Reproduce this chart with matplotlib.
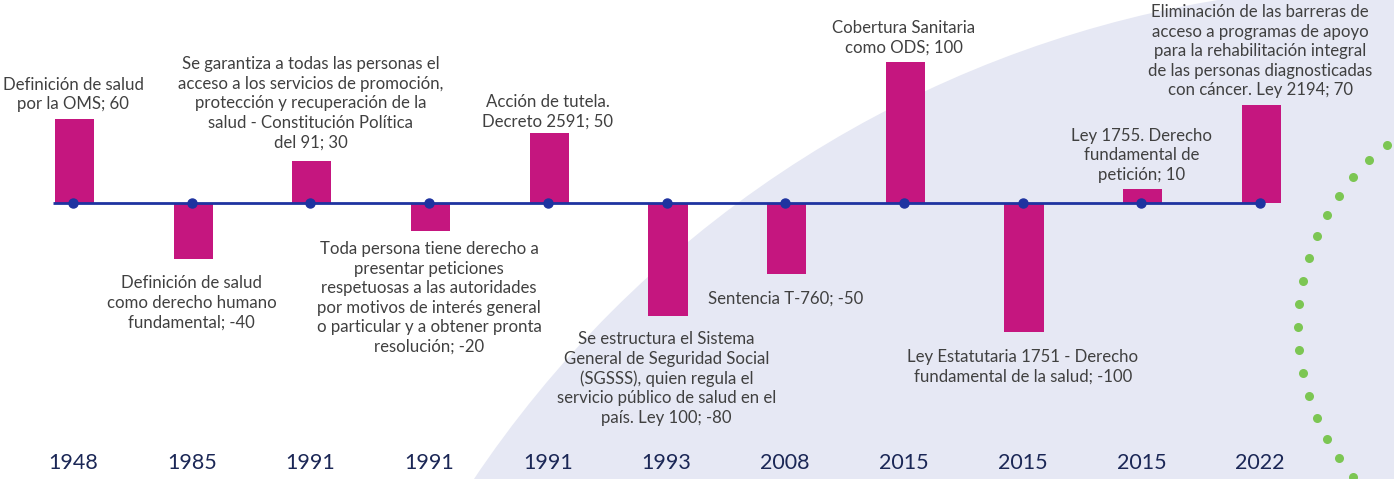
import numpy as np
import matplotlib
matplotlib.use("Agg")
import matplotlib.pyplot as plt
from matplotlib.patches import Circle

plt.rcParams['font.family'] = ['Lato', 'DejaVu Sans']

years = ["1948", "1985", "1991", "1991", "1991", "1993", "2008", "2015", "2015", "2015", "2022"]
values = [60, -40, 30, -20, 50, -80, -50, 100, -100, 10, 70]
descriptions = [
    "Definición de salud\npor la OMS",
    "Definición de salud\ncomo derecho humano\nfundamental",
    "Se garantiza a todas las personas el\nacceso a los servicios de promoción,\nprotección y recuperación de la\nsalud - Constitución Política\ndel 91",
    "Toda persona tiene derecho a\npresentar peticiones\nrespetuosas a las autoridades\npor motivos de interés general\no particular y a obtener pronta\nresolución",
    "Acción de tutela.\nDecreto 2591",
    "Se estructura el Sistema\nGeneral de Seguridad Social\n(SGSSS), quien regula el\nservicio público de salud en el\npaís. Ley 100",
    "Sentencia T-760",
    "Cobertura Sanitaria\ncomo ODS",
    "Ley Estatutaria 1751 - Derecho\nfundamental de la salud",
    "Ley 1755. Derecho\nfundamental de\npetición",
    "Eliminación de las barreras de\nacceso a programas de apoyo\npara la rehabilitación integral\nde las personas diagnosticadas\ncon cáncer. Ley 2194",
]

# label offsets (points) from bar end, styling only
label_offsets = [4.5, -11.5, 7.5, -7.0, 2.0, -11.0, -12.0, 4.5, -12.5, 4.5, 4.5]

BAR = "#C5167F"
NAVY = "#1E33A0"
YEAR_C = "#1B2756"
TEXT_C = "#404040"
LAV = "#E6E8F4"
GREEN = "#7CC653"

W, H = 1394, 479
fig = plt.figure(figsize=(W / 100, H / 100), dpi=100)
fig.patch.set_facecolor("white")

# decorative background
bg = fig.add_axes([0, 0, 1, 1], zorder=0)
bg.set_xlim(0, W)
bg.set_ylim(H, 0)
bg.axis("off")
bg.add_patch(Circle((1400, 1100), 1115, facecolor=LAV, edgecolor="none"))
cx, cy, R = 1528, 327, 230
ang = np.deg2rad(180 + 5.8 * np.arange(-10, 11))
bg.plot(cx + R * np.cos(ang), cy + R * np.sin(ang), "o", color=GREEN,
        markersize=6.5, markeredgewidth=0, clip_on=True)

# main axes
L, Rr = 13.65, 1319.4
ybot_px, ytop_px = 332, 20
ax = fig.add_axes([L / W, (H - ybot_px) / H, (Rr - L) / W, (ybot_px - ytop_px) / H], zorder=1)
ax.patch.set_alpha(0)
ymin, ymax = -91.5, 130
ax.set_xlim(-0.5, 10.5)
ax.set_ylim(ymin, ymax)
x = np.arange(len(values))
bw = 0.33
ax.bar(x + 0.012, values, width=bw, color=BAR, zorder=2)
ax.plot([-bw / 2, x[-1]], [0, 0], color=NAVY, lw=2.0, zorder=3, solid_capstyle="butt")
ax.plot(x, np.zeros(len(x)), "o", color=NAVY, markersize=6.5, zorder=4)

for i, (d, v) in enumerate(zip(descriptions, values)):
    label = f"{d}; {v}"
    anchor = max(v, ymin)
    ax.annotate(label, xy=(i, anchor), xytext=(0, label_offsets[i]), textcoords="offset points",
                ha="center", va="bottom" if v >= 0 else "top", fontsize=12.1, color=TEXT_C,
                linespacing=1.27, annotation_clip=False)

ax.set_xticks(x)
ax.set_xticklabels(years, fontsize=15.5, color=YEAR_C)
ax.tick_params(axis="x", length=0, pad=87)
ax.set_yticks([])
for s in ax.spines.values():
    s.set_visible(False)

fig.savefig("out.png", dpi=100, facecolor="white")
